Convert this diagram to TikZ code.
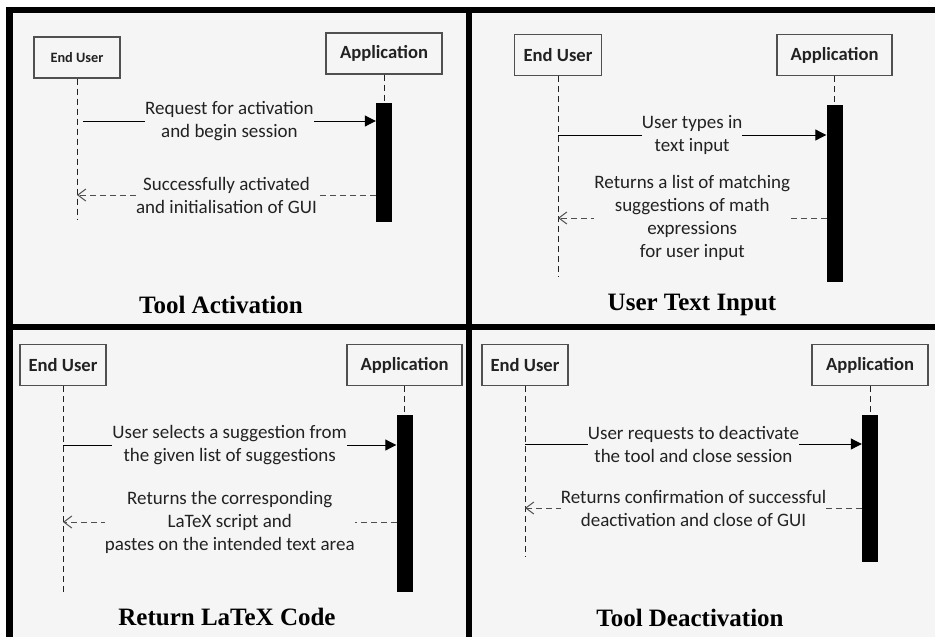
\documentclass[tikz,border=0pt]{standalone}
\usepackage{fontspec}
\setmainfont{Carlito}
\newfontfamily\titlefont{Liberation Serif}
\usetikzlibrary{arrows.meta}
\definecolor{bg}{HTML}{F5F5F5}
\definecolor{ink}{HTML}{222222}
\definecolor{boxc}{HTML}{505050}
\begin{document}
\begin{tikzpicture}[x=1pt,y=-1pt,
  actor/.style={draw=boxc, line width=1.1pt, fill=bg, text=ink, minimum height=41pt, inner sep=0pt,
    font=\bfseries\fontsize{18.6}{20}\selectfont},
  smallactor/.style={actor, font=\bfseries\fontsize{14.3}{16}\selectfont},
  actbar/.style={fill=black, draw=none, minimum width=16pt, inner sep=0pt},
  lifeline/.style={draw=ink, line width=0.8pt, dash pattern=on 6pt off 4pt},
  call/.style={draw=black, line width=1pt, -{Triangle[length=11pt,width=11pt]}},
  reply/.style={draw=ink!80, line width=1pt, dash pattern=on 6pt off 4pt, -{Straight Barb[length=8pt,width=12pt,line width=1pt]}},
  lbl/.style={fill=bg, inner sep=0pt, align=center, text=ink, font=\fontsize{19}{23}\selectfont},
  paneltitle/.style={text=black, font=\titlefont\bfseries\fontsize{25}{28}\selectfont}
]
\useasboundingbox (0,0) rectangle (935,637);
\fill[white] (0,0) rectangle (935,637);
\fill[bg] (6,7) rectangle (935,637);
% frame
\fill[black] (6,7) rectangle (935,13);
\fill[black] (6,7) rectangle (12.5,637);
\fill[black] (466,7) rectangle (471.5,637);
\fill[black] (6,323.5) rectangle (935,330);

% ---------- Panel 1: Tool Activation ----------
\node[smallactor, minimum width=86pt] (eu1) at (77,57.5) {End User};
\node[actor, minimum width=116pt] (app1) at (384,53.5) {Application};
\node[actbar, minimum height=119pt] (bar1) at (384,162.5) {};
\coordinate (eu1end) at (77,220);
\draw[lifeline] (eu1.south) -- (eu1end);
\draw[lifeline] (app1.south) -- (bar1.north);
\coordinate (p1a) at (83,121);
\draw[call] (p1a) -- node[lbl]{Request for activation\\and begin session} (p1a -| bar1.west);
\coordinate (p1b) at (376,195);
\draw[reply] (p1b) -- node[lbl]{Successfully activated\\and initialisation of GUI} (p1b -| eu1.south);
\node[paneltitle] (t1) at (221,305) {Tool Activation};

% ---------- Panel 2: User Text Input ----------
\node[actor, minimum width=87pt] (eu2) at (558,55) {End User};
\node[actor, minimum width=115pt] (app2) at (834.5,55) {Application};
\node[actbar, minimum height=177pt] (bar2) at (834.5,193.5) {};
\coordinate (eu2end) at (558,277);
\draw[lifeline] (eu2.south) -- (eu2end);
\draw[lifeline] (app2.south) -- (bar2.north);
\coordinate (p2a) at (558,135);
\draw[call] (p2a) -- node[lbl]{User types in\\text input} (p2a -| bar2.west);
\coordinate (p2b) at (826.5,218);
\draw[reply] (p2b) -- node[lbl]{Returns a list of matching\\suggestions of math\\expressions\\for user input} (p2b -| eu2.south);
\node[paneltitle] (t2) at (692,305) {User Text Input};

% ---------- Panel 3: Return LaTeX Code ----------
\node[actor, minimum width=86pt] (eu3) at (63,365) {End User};
\node[actor, minimum width=115pt] (app3) at (404.5,365) {Application};
\node[actbar, minimum height=177pt] (bar3) at (404.5,503.5) {};
\coordinate (eu3end) at (63,593);
\draw[lifeline] (eu3.south) -- (eu3end);
\draw[lifeline] (app3.south) -- (bar3.north);
\coordinate (p3a) at (63,445);
\draw[call] (p3a) -- node[lbl]{User selects a suggestion from\\the given list of suggestions} (p3a -| bar3.west);
\coordinate (p3b) at (396.5,522);
\draw[reply] (p3b) -- node[lbl]{Returns the corresponding\\LaTeX script and\\pastes on the intended text area} (p3b -| eu3.south);
\node[paneltitle] (t3) at (227,617) {Return LaTeX Code};

% ---------- Panel 4: Tool Deactivation ----------
\node[actor, minimum width=86pt] (eu4) at (525,365) {End User};
\node[actor, minimum width=116pt] (app4) at (870,365) {Application};
\node[actbar, minimum height=147pt] (bar4) at (870,488.5) {};
\coordinate (eu4end) at (525,557);
\draw[lifeline] (eu4.south) -- (eu4end);
\draw[lifeline] (app4.south) -- (bar4.north);
\coordinate (p4a) at (525,444);
\draw[call] (p4a) -- node[lbl]{User requests to deactivate\\the tool and close session} (p4a -| bar4.west);
\coordinate (p4b) at (862,508);
\draw[reply] (p4b) -- node[lbl]{Returns confirmation of successful\\deactivation and close of GUI} (p4b -| eu4.south);
\node[paneltitle] (t4) at (690,618) {Tool Deactivation};
\end{tikzpicture}
\end{document}
